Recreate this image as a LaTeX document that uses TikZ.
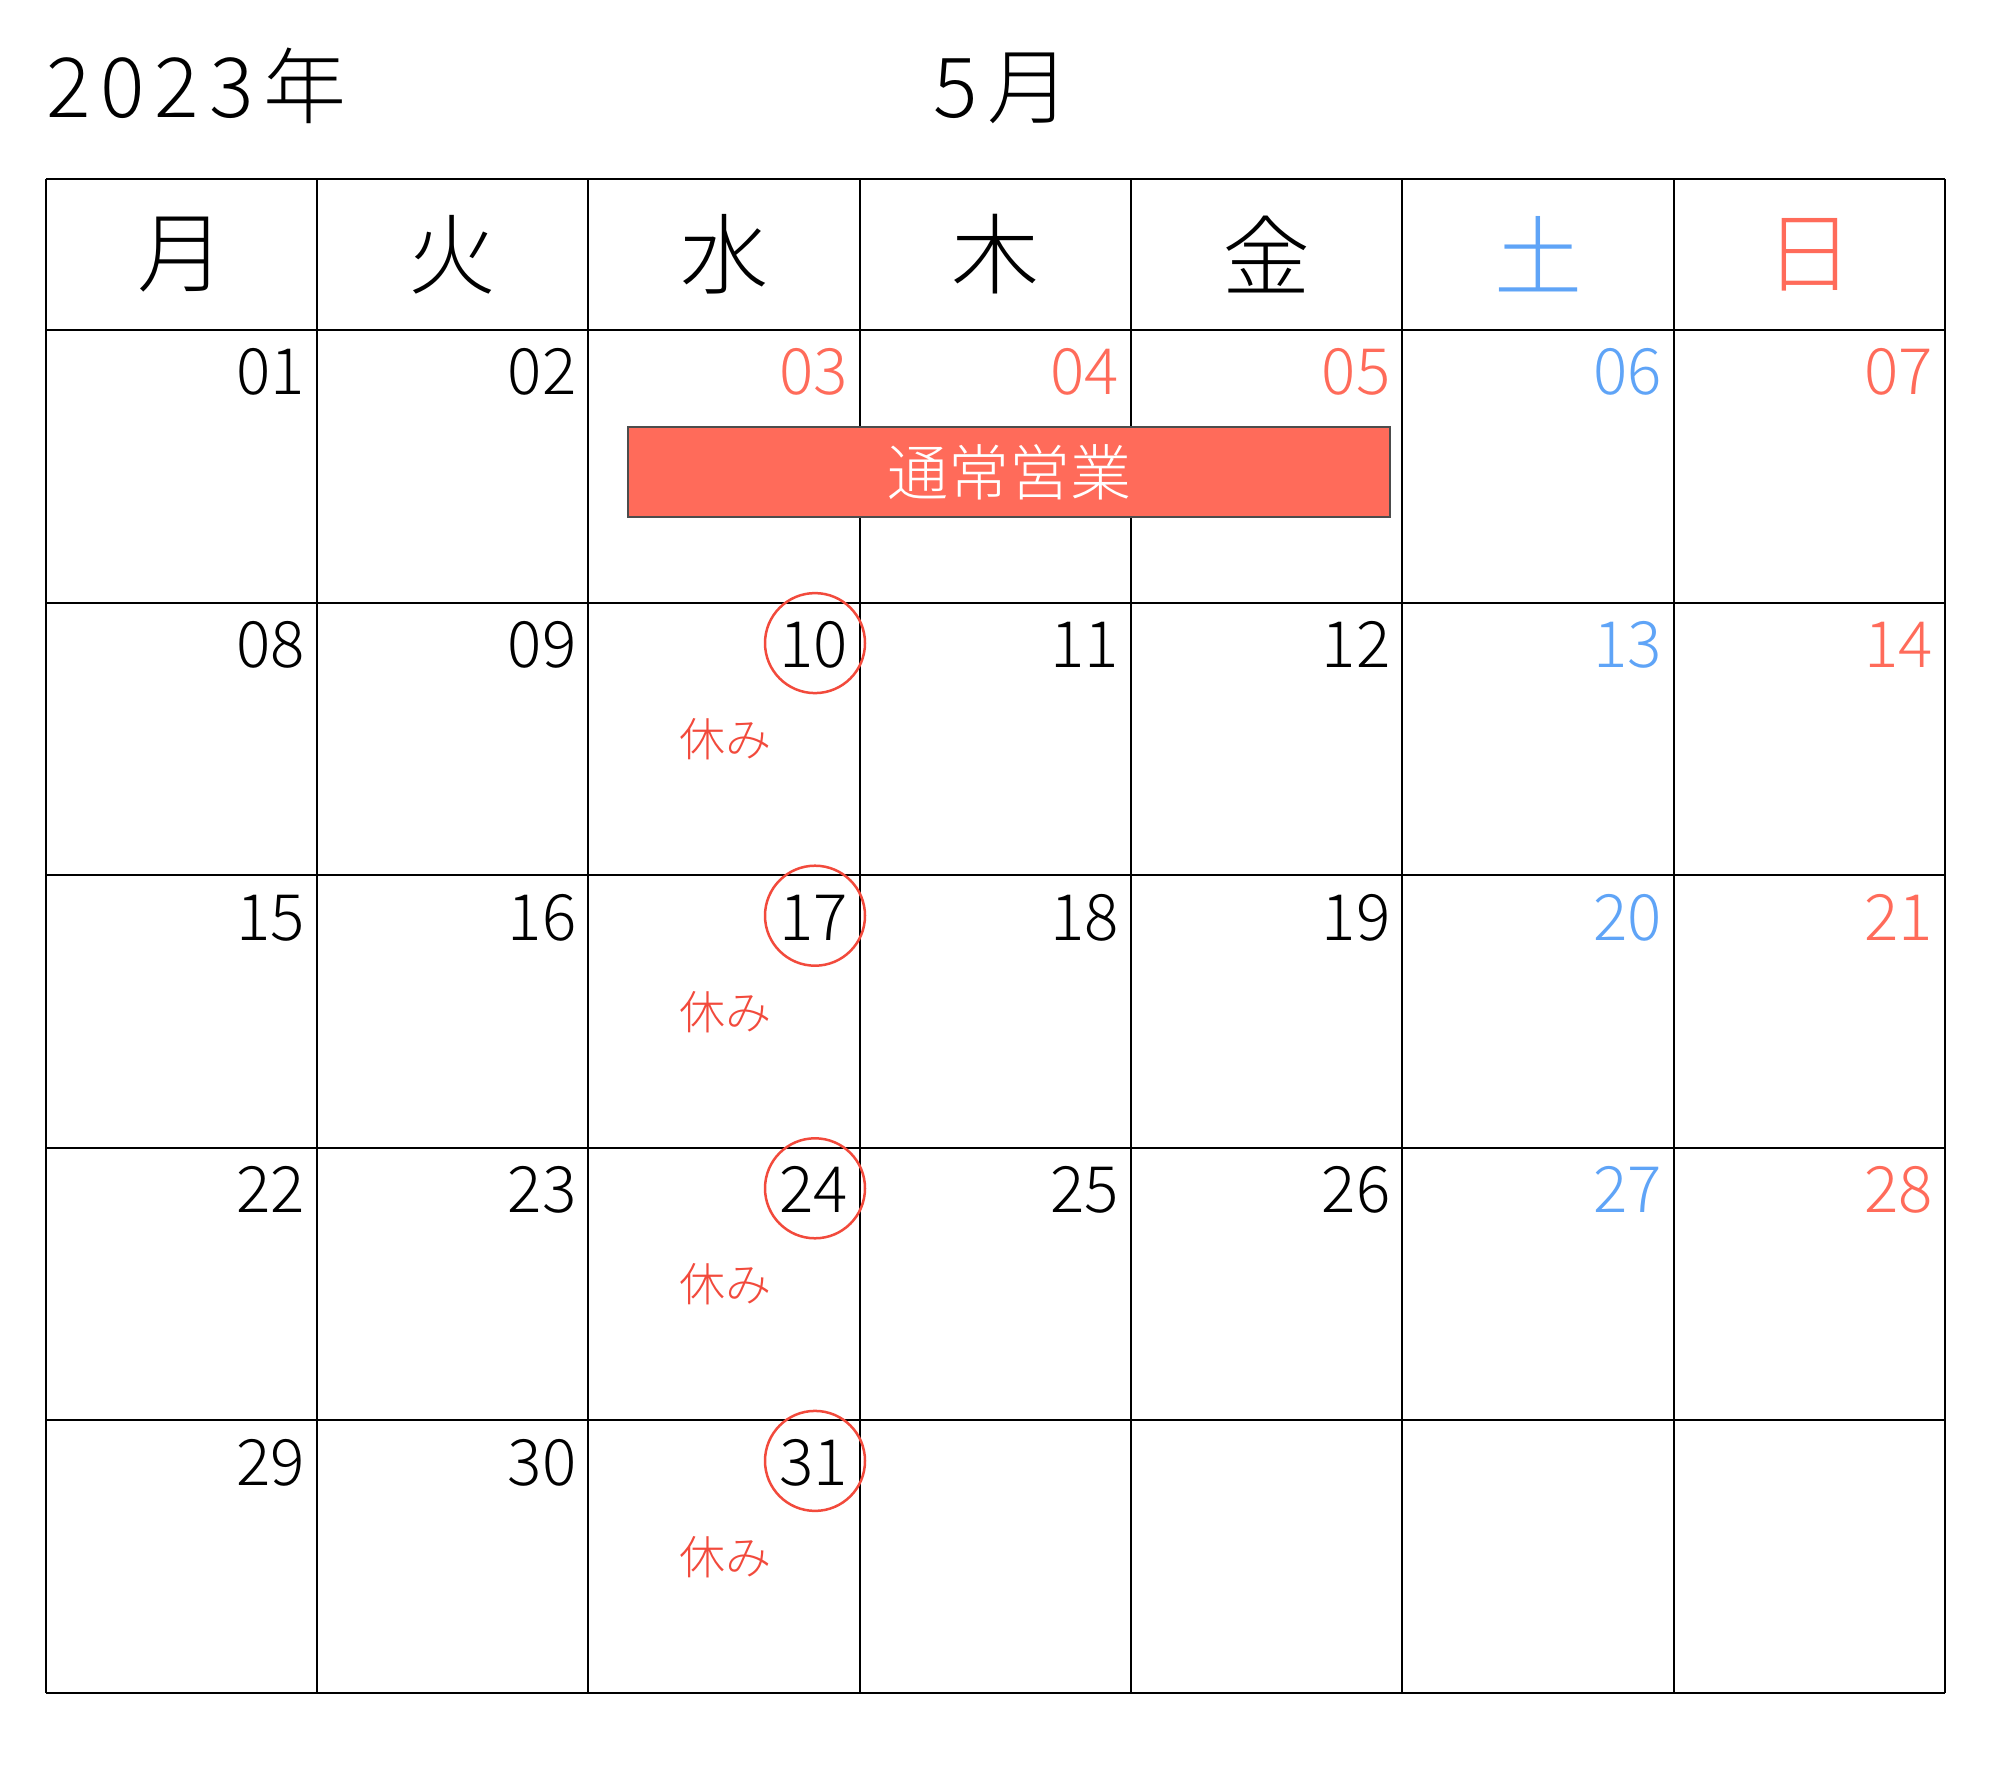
\documentclass[tikz,border=0pt]{standalone}
\usepackage{fontspec}
\IfFontExistsTF{Noto Sans CJK JP Light}{\setmainfont{Noto Sans CJK JP Light}}{\setmainfont{Noto Sans CJK JP}}
\definecolor{hol}{HTML}{FF6B5A}
\definecolor{sat}{HTML}{5FA4F7}
\definecolor{offred}{HTML}{F24A3C}
\begin{document}
\begin{tikzpicture}[x=1pt,y=-1pt,
  daynum/.style={anchor=base east, inner sep=0pt, font=\fontsize{64}{64}\selectfont},
  hdr/.style={anchor=center, inner sep=0pt, font=\fontsize{88}{88}\selectfont},
  titletext/.style={anchor=base west, inner sep=0pt, font=\fontsize{83}{83}\selectfont\addfontfeature{LetterSpace=12}},
  offmark/.style={draw=offred, line width=2.5pt, circle, minimum size=100pt, inner sep=0pt},
  offtxt/.style={text=offred, inner sep=0pt, font=\fontsize{46}{46}\selectfont},
  bar/.style={fill=hol, draw=black!70, line width=1.5pt, inner sep=0pt, text=white,
              minimum width=762pt, minimum height=90pt, font=\fontsize{61}{61}\selectfont},
  gridrow/.style={line width=1.8pt, draw=black},
  gridcol/.style={line width=1.5pt, draw=black}
]
\useasboundingbox (0,0) rectangle (2000,1768);
\fill[white] (0,0) rectangle (2000,1768);

% title
\node[titletext] (year) at (46,118) {2023年};
\node[titletext] (month) at (933,118) {5月};

% grid
\foreach \y in {179,330,603,875,1148,1420,1693} {
  \draw[gridrow] (46,\y) -- (1945,\y);
}
\foreach \x in {46,317,588,860,1131,1402,1674,1945} {
  \draw[gridcol] (\x,179) -- (\x,1693);
}

% weekday headers
\foreach \w/\clr [count=\i from 0] in {月/black,火/black,水/black,木/black,金/black,土/sat,日/hol} {
  \node[hdr, text=\clr] (h\i) at ({46+(\i+0.5)*271.286},254.5) {\w};
}

% day numbers
\foreach \r in {0,...,4} {
  \foreach \c in {0,...,6} {
    \pgfmathtruncatemacro{\dd}{7*\r+\c+1}
    \ifnum\dd<32
      \def\clr{black}
      \ifnum\c=5 \def\clr{sat}\fi
      \ifnum\c=6 \def\clr{hol}\fi
      \ifnum\dd>2 \ifnum\dd<6 \def\clr{hol}\fi\fi
      \node[daynum, text=\clr] (d\dd) at ({46+(\c+1)*271.286-12},{330+\r*272.6+65}) {\ifnum\dd<10 0\fi\dd};
    \fi
  }
}

% business bar
\node[bar] (bar) at (1009,472) {通常営業};

% closed days
\foreach \r/\dd in {1/10,2/17,3/24,4/31} {
  \node[offmark] (c\dd) at (815,{330+\r*272.6+40.5}) {};
  \node[offtxt] (o\dd) at (725,{330+\r*272.6+136.5}) {休み};
}
\end{tikzpicture}
\end{document}
